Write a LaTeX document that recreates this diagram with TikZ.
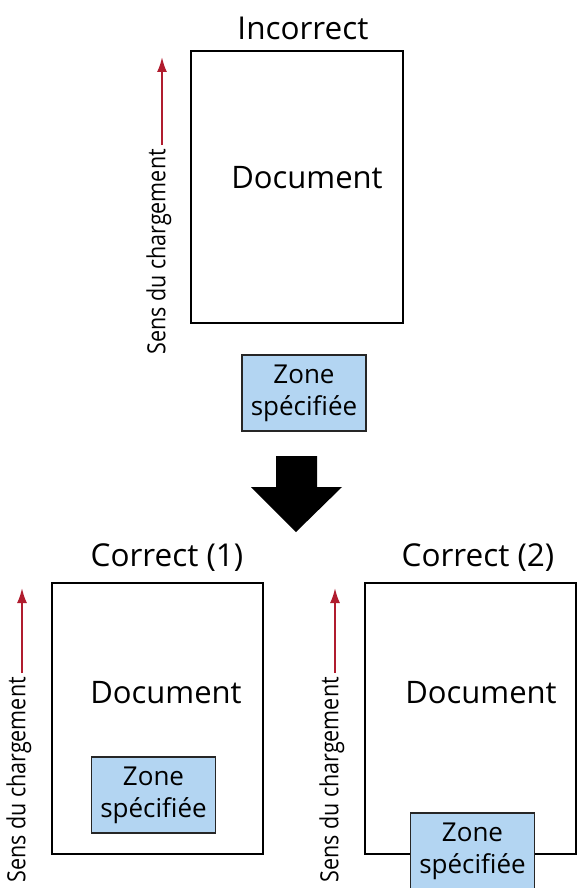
\documentclass[tikz,border=0pt]{standalone}
\usepackage{fontspec}
\setmainfont{Open Sans}
\usetikzlibrary{arrows.meta}
\definecolor{zoneblue}{HTML}{B3D5F2}
\definecolor{arrred}{HTML}{B01C2E}
\tikzset{
  docbox/.style={draw=black, line width=2.4pt, fill=white},
  zonebox/.style={draw=black!85, line width=1.5pt, fill=zoneblue, minimum width=124pt, minimum height=76pt, align=center, inner sep=0pt, font=\fontsize{26}{32}\selectfont},
  titletext/.style={font=\fontsize{31.5}{34}\selectfont, inner sep=0pt},
  doctext/.style={font=\fontsize{31}{34}\selectfont, inner sep=0pt},
  senslabel/.style={rotate=90, anchor=east, inner sep=0pt, font=\fontsize{25}{28}\selectfont\addfontfeatures{FakeStretch=0.86}},
  loadarrow/.style={draw=arrred, line width=2pt, -{Latex[length=15pt,width=10pt]}, shorten <=4pt}
}
\begin{document}
\begin{tikzpicture}[x=1pt,y=-1pt]
\useasboundingbox (0,0) rectangle (577,888);
\clip (0,0) rectangle (577,888);
% Incorrect
\node[titletext] (t0) at (303,28) {Incorrect};
\draw[docbox] (191,51) rectangle (403,323);
\node[doctext] (d0) at (307,178) {Document};
\node[zonebox] (z0) at (304,393) {Zone\\spécifiée};
\node[senslabel] (s0) at (159,149) {Sens du chargement};
\coordinate (a0) at (162,57);
\draw[loadarrow] (a0 |- s0.east) -- (a0);
% big arrow
\fill[black] (276,456) -- (317,456) -- (317,487) -- (342,487) -- (296,532) -- (251,487) -- (276,487) -- cycle;
% Correct (1)
\node[titletext] (t1) at (167,558) {Correct (1)};
\draw[docbox] (52,583) rectangle (263,854);
\node[doctext] (d1) at (166,693) {Document};
\node[zonebox] (z1) at (153.5,795) {Zone\\spécifiée};
\node[senslabel] (s1) at (19,677) {Sens du chargement};
\coordinate (a1) at (22,588);
\draw[loadarrow] (a1 |- s1.east) -- (a1);
% Correct (2)
\node[titletext] (t2) at (478,558) {Correct (2)};
\draw[docbox] (365,583) rectangle (576,854);
\node[doctext] (d2) at (481,693) {Document};
\node[zonebox] (z2) at (472.5,851) {Zone\\spécifiée};
\node[senslabel] (s2) at (332,677) {Sens du chargement};
\coordinate (a2) at (335,588);
\draw[loadarrow] (a2 |- s2.east) -- (a2);
\end{tikzpicture}
\end{document}
